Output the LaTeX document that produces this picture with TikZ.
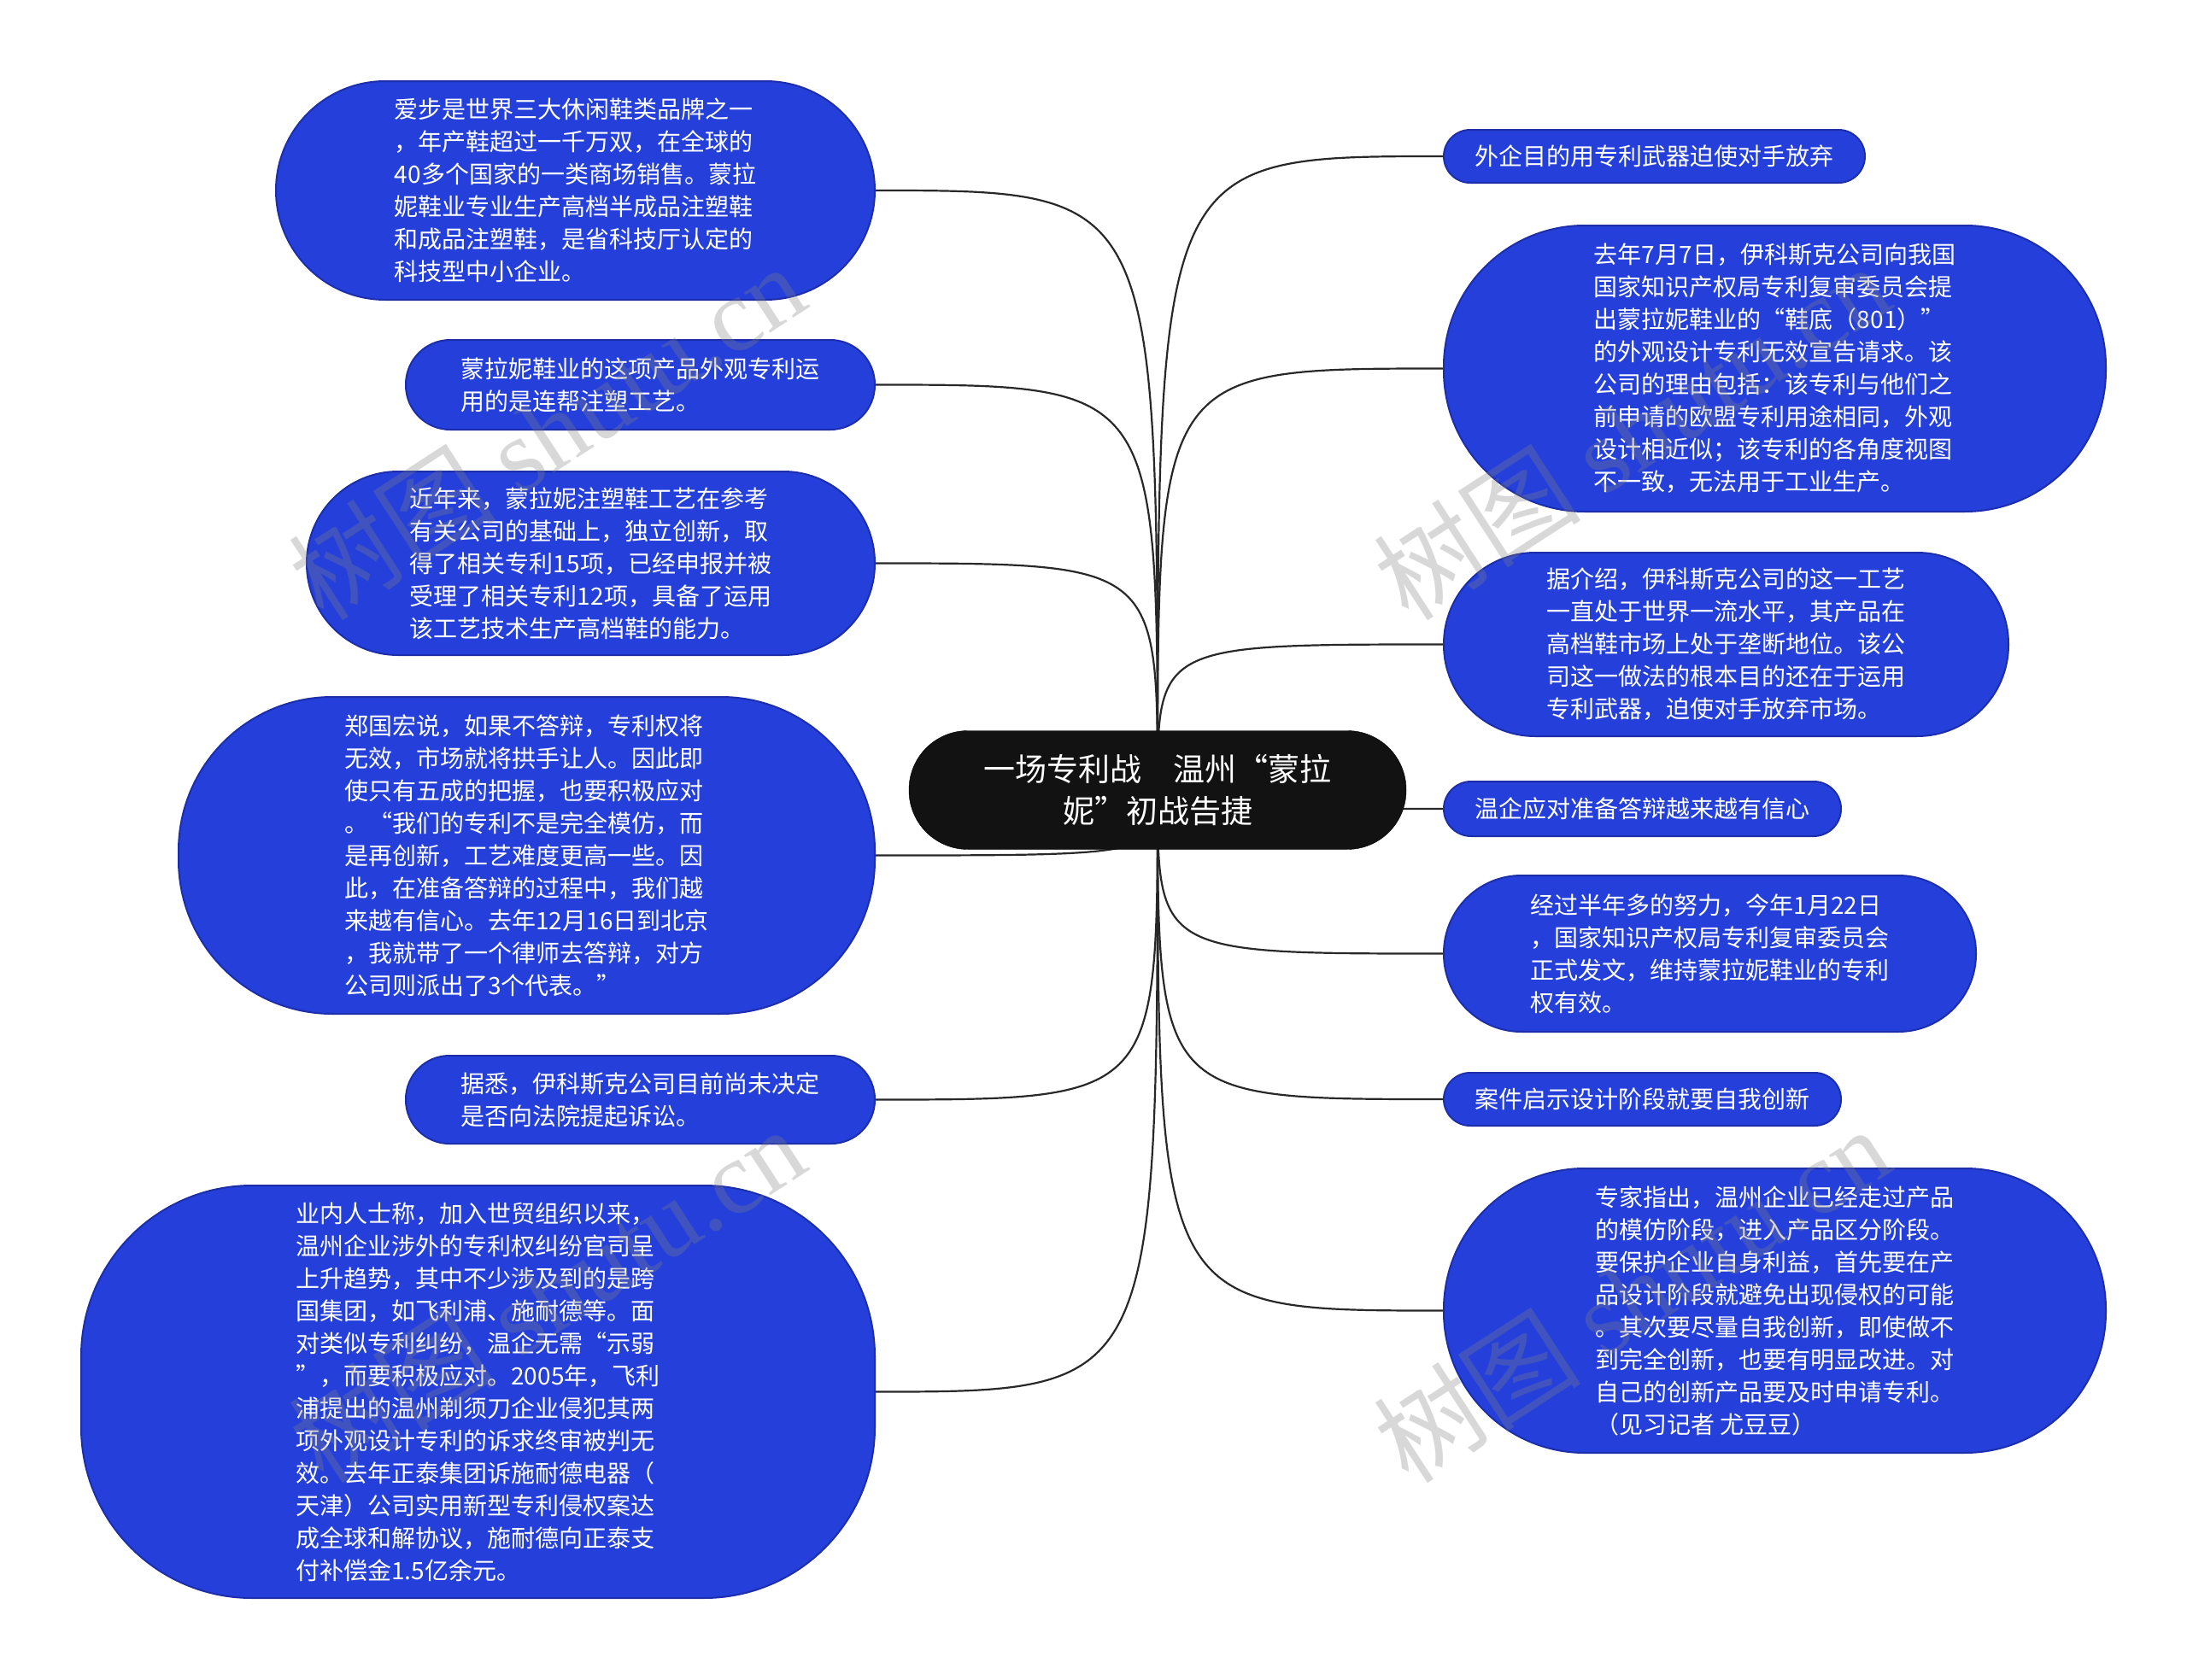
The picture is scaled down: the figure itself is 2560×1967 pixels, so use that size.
\documentclass[tikz,border=0pt]{standalone}
\usepackage{fontspec}
\newfontfamily\cjk{Noto Sans CJK SC}
\newfontfamily\wmlat{Liberation Serif}
\usetikzlibrary{backgrounds}
\definecolor{leafblue}{RGB}{37,64,218}
\definecolor{leafedge}{RGB}{28,46,170}
\definecolor{linkcol}{RGB}{40,40,40}
\tikzset{
  leaf/.style n args={3}{draw=leafedge, line width=2pt, fill=leafblue, text=white,
    font=\cjk\fontsize{28}{38}\selectfont, align=left, inner sep=0pt,
    minimum width=#1, minimum height=#2, rounded corners=#3},
  rootbox/.style={fill=black!93, draw=black, text=white,
    font=\cjk\fontsize{37}{49}\selectfont, align=center, inner sep=0pt,
    minimum width=582pt, minimum height=139pt, rounded corners=69pt},
  link/.style={draw=linkcol, line width=2.2pt},
  wmark/.style={text=gray, opacity=0.3, rotate=33, font=\cjk\fontsize{122}{122}\selectfont}
}
\begin{document}
\begin{tikzpicture}[x=1pt,y=-1pt]
\useasboundingbox (0,0) rectangle (2560,1967);
\node[rootbox] (root) at (1355,925) {一场专利战　温州“蒙拉\\妮”初战告捷};

\node[leaf={701pt}{256pt}{128pt}] (L1) at (673.5,223) {爱步是世界三大休闲鞋类品牌之一\\，年产鞋超过一千万双，在全球的\\40多个国家的一类商场销售。蒙拉\\妮鞋业专业生产高档半成品注塑鞋\\和成品注塑鞋，是省科技厅认定的\\科技型中小企业。};
\node[leaf={549pt}{105pt}{52pt}] (L2) at (749.5,450.5) {蒙拉妮鞋业的这项产品外观专利运\\用的是连帮注塑工艺。};
\node[leaf={665pt}{215pt}{107pt}] (L3) at (691.5,659.5) {近年来，蒙拉妮注塑鞋工艺在参考\\有关公司的基础上，独立创新，取\\得了相关专利15项，已经申报并被\\受理了相关专利12项，具备了运用\\该工艺技术生产高档鞋的能力。};
\node[leaf={815pt}{371pt}{180pt}] (L4) at (616.5,1001.5) {郑国宏说，如果不答辩，专利权将\\无效，市场就将拱手让人。因此即\\使只有五成的把握，也要积极应对\\。“我们的专利不是完全模仿，而\\是再创新，工艺难度更高一些。因\\此，在准备答辩的过程中，我们越\\来越有信心。去年12月16日到北京\\，我就带了一个律师去答辩，对方\\公司则派出了3个代表。”};
\node[leaf={549pt}{103pt}{51pt}] (L5) at (749.5,1287.5) {据悉，伊科斯克公司目前尚未决定\\是否向法院提起诉讼。};
\node[leaf={929pt}{483pt}{200pt}] (L6) at (559.5,1629.5) {业内人士称，加入世贸组织以来，\\温州企业涉外的专利权纠纷官司呈\\上升趋势，其中不少涉及到的是跨\\国集团，如飞利浦、施耐德等。面\\对类似专利纠纷，温企无需“示弱\\”，而要积极应对。2005年，飞利\\浦提出的温州剃须刀企业侵犯其两\\项外观设计专利的诉求终审被判无\\效。去年正泰集团诉施耐德电器（\\天津）公司实用新型专利侵权案达\\成全球和解协议，施耐德向正泰支\\付补偿金1.5亿余元。};

\node[leaf={493pt}{62pt}{31pt}] (R1) at (1936.5,183) {外企目的用专利武器迫使对手放弃};
\node[leaf={775pt}{335pt}{165pt}] (R2) at (2077.5,431.5) {去年7月7日，伊科斯克公司向我国\\国家知识产权局专利复审委员会提\\出蒙拉妮鞋业的“鞋底（801）”\\的外观设计专利无效宣告请求。该\\公司的理由包括：该专利与他们之\\前申请的欧盟专利用途相同，外观\\设计相近似；该专利的各角度视图\\不一致，无法用于工业生产。};
\node[leaf={661pt}{215pt}{107pt}] (R3) at (2020.5,754.5) {据介绍，伊科斯克公司的这一工艺\\一直处于世界一流水平，其产品在\\高档鞋市场上处于垄断地位。该公\\司这一做法的根本目的还在于运用\\专利武器，迫使对手放弃市场。};
\node[leaf={465pt}{64pt}{32pt}] (R4) at (1922.5,947) {温企应对准备答辩越来越有信心};
\node[leaf={623pt}{183pt}{91pt}] (R5) at (2001.5,1116.5) {经过半年多的努力，今年1月22日\\，国家知识产权局专利复审委员会\\正式发文，维持蒙拉妮鞋业的专利\\权有效。};
\node[leaf={465pt}{62pt}{31pt}] (R6) at (1922.5,1287) {案件启示设计阶段就要自我创新};
\node[leaf={775pt}{333pt}{165pt}] (R7) at (2077.5,1534.5) {专家指出，温州企业已经走过产品\\的模仿阶段，进入产品区分阶段。\\要保护企业自身利益，首先要在产\\品设计阶段就避免出现侵权的可能\\。其次要尽量自我创新，即使做不\\到完全创新，也要有明显改进。对\\自己的创新产品要及时申请专利。\\（见习记者 尤豆豆）};

\begin{scope}[on background layer]
\fill[white] (0,0) rectangle (2560,1967);
\foreach \n in {L1,L2,L3,L4,L5,L6}
  \draw[link] (root.center) .. controls (root.center |- \n.east) .. (\n.east);
\foreach \n in {R1,R2,R3,R4,R5,R6,R7}
  \draw[link] (root.center) .. controls (root.center |- \n.west) .. (\n.west);
\end{scope}

\node[wmark] (w1) at (640,505) {树图 {\wmlat shutu.cn}};
\node[wmark] (w2) at (1910,505) {树图 {\wmlat shutu.cn}};
\node[wmark] (w3) at (640,1515) {树图 {\wmlat shutu.cn}};
\node[wmark] (w4) at (1910,1515) {树图 {\wmlat shutu.cn}};
\end{tikzpicture}
\end{document}
